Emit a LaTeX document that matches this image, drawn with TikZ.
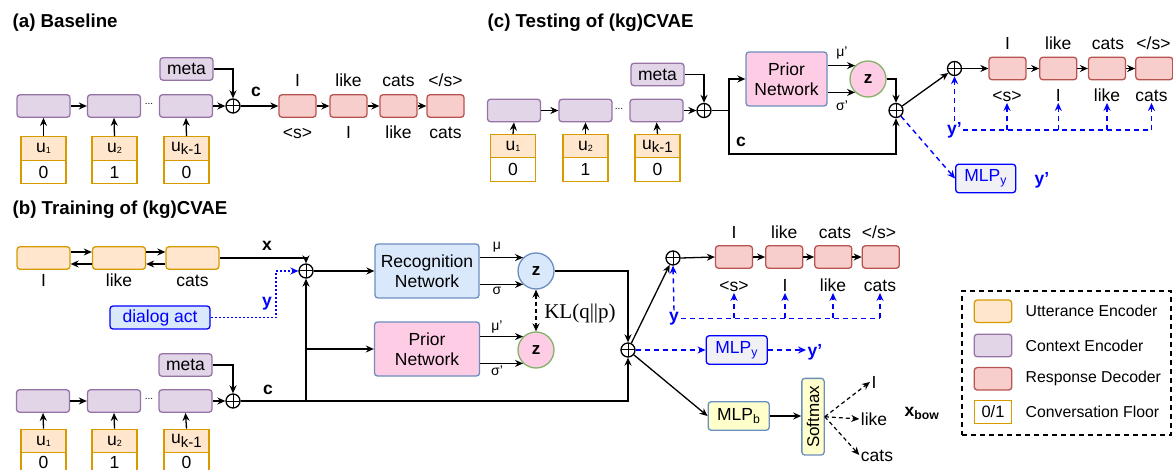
\documentclass[tikz,border=0pt]{standalone}
\usepackage{fontspec}
\setmainfont{Liberation Sans}
\newfontfamily\seriffont{Liberation Serif}
\usetikzlibrary{arrows.meta,calc}
\definecolor{uttF}{HTML}{FFE6CC}
\definecolor{uttD}{HTML}{D79B00}
\definecolor{ctxF}{HTML}{E1D5E7}
\definecolor{ctxD}{HTML}{9673A6}
\definecolor{decF}{HTML}{F8CECC}
\definecolor{decD}{HTML}{B85450}
\definecolor{bluF}{HTML}{DAE8FC}
\definecolor{bluD}{HTML}{6C8EBF}
\definecolor{pinF}{HTML}{FFCCE6}
\definecolor{grnD}{HTML}{82B366}
\definecolor{yelF}{HTML}{FFFFCC}
\definecolor{mlpF}{HTML}{F0F0F5}
\definecolor{pureblue}{HTML}{0000FF}
\newcommand\smallsub[1]{\raisebox{-1pt}{\fontsize{9}{9}\selectfont #1}}
\newcommand\bigsub[1]{\raisebox{-3.5pt}{\fontsize{15}{15}\selectfont #1}}
\begin{document}
\begin{tikzpicture}[x=1pt,y=-1pt,line width=1.3pt,
  >={Stealth[length=8pt,width=7pt]},
  font={\fontsize{17.5}{20}\selectfont},
  bx/.style={draw,rounded corners=3pt,inner sep=0pt,align=center},
  ctx/.style={bx,fill=ctxF,draw=ctxD,minimum width=53,minimum height=22.5},
  dec/.style={bx,fill=decF,draw=decD,minimum width=37,minimum height=22.5},
  utt/.style={bx,fill=uttF,draw=uttD,minimum width=53,minimum height=22.5},
  uttcell/.style={draw=uttD,fill=uttF,minimum width=45,minimum height=23.5,inner sep=0pt},
  floorcell/.style={draw=uttD,fill=white,minimum width=45,minimum height=23.5,inner sep=0pt},
  op/.style={circle,draw,minimum size=14,inner sep=0pt,
    path picture={\draw[line width=1pt] (path picture bounding box.north) -- (path picture bounding box.south)
      (path picture bounding box.west) -- (path picture bounding box.east);}},
  zc/.style={circle,minimum size=36,inner sep=0pt,font={\bfseries\fontsize{17}{20}\selectfont}},
  wlab/.style={inner sep=1pt,text height=12.5pt,text depth=0pt},
  greek/.style={font={\fontsize{14}{16}\selectfont},inner sep=0pt},
  bl/.style={font={\bfseries\fontsize{17.5}{20}\selectfont},inner sep=1pt},
  bbl/.style={bl,text=pureblue},
  ttl/.style={font={\bfseries\fontsize{18.7}{22}\selectfont},anchor=west,inner sep=0pt},
  dotsl/.style={font={\fontsize{10}{10}\selectfont},inner sep=0pt},
  legl/.style={font={\fontsize{15.8}{18}\selectfont},anchor=west,inner sep=0pt},
  bdash/.style={pureblue,dash pattern=on 5pt off 4pt,line width=1.4pt},
  bdot/.style={pureblue,dash pattern=on 2pt off 2pt,line width=1.2pt},
  kdash/.style={dash pattern=on 4pt off 3pt,line width=1.2pt}]
\useasboundingbox (0,0) rectangle (1173,470);

% ================= (a) Baseline =================
\node[ttl] (ta) at (12,23) {(a) Baseline};
\node[ctx] (ac1) at (43.5,106) {};
\node[ctx] (ac2) at (114,106) {};
\node[ctx] (ac3) at (186,106) {};
\node[dotsl] (adots) at (149,104) {...};
\node[ctx] (ameta) at (186.5,69) {meta};
\node[op] (aop) at (233,106) {};
\node[bl] (aclab) at (256,92) {c};
\node[dec] (ad1) at (297.5,106) {};
\node[dec] (ad2) at (348.5,106) {};
\node[dec] (ad3) at (398.5,106) {};
\node[dec] (ad4) at (445.5,106) {};
\node[wlab] (aa1) at (297.5,80) {I};
\node[wlab] (aa2) at (348.5,80) {like};
\node[wlab] (aa3) at (398.5,80) {cats};
\node[wlab] (aa4) at (445.5,80) {</s>};
\node[wlab] (ab1) at (297.5,132) {<s>};
\node[wlab] (ab2) at (348.5,132) {I};
\node[wlab] (ab3) at (398.5,132) {like};
\node[wlab] (ab4) at (445.5,132) {cats};
\node[uttcell] (au1) at (43.5,148.5) {u\smallsub{1}};
\node[floorcell] (af1) at (43.5,172) {0};
\node[uttcell] (au2) at (114.5,148.5) {u\smallsub{2}};
\node[floorcell] (af2) at (114.5,172) {1};
\node[uttcell] (au3) at (186.5,148.5) {u\bigsub{k-1}};
\node[floorcell] (af3) at (186.5,172) {0};
\draw[->] (au1.north) -- (ac1.south);
\draw[->] (au2.north) -- (ac2.south);
\draw[->] (au3.north) -- (ac3.south);
\draw[->] (ac1.east) -- (ac2.west);
\draw[->] (ac3.east) -- (aop.west);
\draw[->] (ameta.east) -| (aop.north);
\draw[->] (aop.east) -- (ad1.west);
\draw[->] (ad1.east) -- (ad2.west);
\draw[->] (ad2.east) -- (ad3.west);
\draw[->] (ad3.east) -- (ad4.west);

% ================= (c) Testing =================
\node[ttl] (tc) at (487,23) {(c) Testing of (kg)CVAE};
\node[ctx] (cc1) at (514,110.5) {};
\node[ctx] (cc2) at (585.5,110.5) {};
\node[ctx] (cc3) at (656.5,110.5) {};
\node[dotsl] (cdots) at (619,108.5) {...};
\node[ctx] (cmeta) at (657.5,74.5) {meta};
\node[op] (cop1) at (704,110.5) {};
\node[uttcell] (cu1) at (513,146.5) {u\smallsub{1}};
\node[floorcell] (cf1) at (513,169.5) {0};
\node[uttcell] (cu2) at (585.5,146.5) {u\smallsub{2}};
\node[floorcell] (cf2) at (585.5,169.5) {1};
\node[uttcell] (cu3) at (657.5,146.5) {u\bigsub{k-1}};
\node[floorcell] (cf3) at (657.5,169.5) {0};
\coordinate (cbr) at (729,110.5);
\coordinate (ccor) at (896,154);
\node[bx,fill=pinF,draw=bluD,minimum width=81,minimum height=54] (cprior) at (786.5,79) {Prior\\Network};
\node[zc,draw=grnD,fill=pinF] (cz) at (868,79) {z};
\node[op] (cop2) at (896,110.5) {};
\node[bl] (cclab) at (741,142) {c};
\node[greek] (cmu) at (842,53) {μ'};
\node[greek] (csig) at (842,106) {σ'};
\node[op] (cop3) at (954.5,68.5) {};
\node[dec] (cd1) at (1007.5,68.5) {};
\node[dec] (cd2) at (1058.3,68.5) {};
\node[dec] (cd3) at (1107,68.5) {};
\node[dec] (cd4) at (1154.3,68.5) {};
\node[wlab] (ca1) at (1007.5,43.5) {I};
\node[wlab] (ca2) at (1058.3,43.5) {like};
\node[wlab] (ca3) at (1108,43.5) {cats};
\node[wlab] (ca4) at (1153.5,43.5) {</s>};
\node[wlab] (cb1) at (1007,95) {<s>};
\node[wlab] (cb2) at (1058.3,95) {I};
\node[wlab] (cb3) at (1107,95) {like};
\node[wlab] (cb4) at (1151.5,95) {cats};
\node[bbl] (cyp) at (954.5,130) {y'};
\coordinate (ch1) at (1007,130);
\coordinate (ch2) at (1058.3,130);
\coordinate (ch3) at (1107,130);
\coordinate (ch4) at (1151.5,130);
\node[bx,fill=mlpF,draw=pureblue,text=pureblue,minimum width=60,minimum height=28.5] (cmlpy) at (985.7,178.5) {MLP\textsubscript{y}};
\node[bbl] (cyp2) at (1042,180) {y'};
\draw[->] (cu1.north) -- (cc1.south);
\draw[->] (cu2.north) -- (cc2.south);
\draw[->] (cu3.north) -- (cc3.south);
\draw[->] (cc1.east) -- (cc2.west);
\draw[->] (cc3.east) -- (cop1.west);
\draw[->] (cmeta.east) -| (cop1.north);
\draw (cop1.east) -- (cbr);
\draw[->] (cbr) |- (cprior.west);
\draw[->] (cbr) |- (ccor) -- (cop2.south);
\draw[->] (cprior.east |- cz.134) -- (cz.134);
\draw[->] (cprior.east |- cz.226) -- (cz.226);
\draw[->] (cz.east) -| (cop2.north);
\draw[->] (cop2) -- (cop3);
\draw[->] (cop3.east) -- (cd1.west);
\draw[->] (cd1.east) -- (cd2.west);
\draw[->] (cd2.east) -- (cd3.west);
\draw[->] (cd3.east) -- (cd4.west);
\draw[bdash,->] (cyp.north) -- (cop3.south);
\draw[bdash] (cyp.east) -- (ch4);
\draw[bdash,->] (ch1) -- (cb1.south);
\draw[bdash,->] (ch2) -- (cb2.south);
\draw[bdash,->] (ch3) -- (cb3.south);
\draw[bdash,->] (ch4) -- (cb4.south);
\draw[bdash,->] (cop2) -- (cmlpy.west);

% ================= (b) Training =================
\node[ttl] (tb) at (12,210) {(b) Training of (kg)CVAE};
\node[utt] (bu1) at (43.5,258) {};
\node[utt] (bu2) at (119,258) {};
\node[utt] (bu3) at (192.5,258) {};
\draw[->] ([yshift=6pt]bu1.east) -- ([yshift=6pt]bu2.west);
\draw[<-] ([yshift=-6pt]bu1.east) -- ([yshift=-6pt]bu2.west);
\draw[->] ([yshift=6pt]bu2.east) -- ([yshift=6pt]bu3.west);
\draw[<-] ([yshift=-6pt]bu2.east) -- ([yshift=-6pt]bu3.west);
\node[wlab] (bw1) at (43.5,280) {I};
\node[wlab] (bw2) at (119,280) {like};
\node[wlab] (bw3) at (192.5,280) {cats};
\node[op] (bop1) at (306,271) {};
\draw[->] (bu3.east) -| (bop1.north);
\node[bl] (bxlab) at (267,246) {x};
\node[bx,fill=bluF,draw=pureblue,text=pureblue,minimum width=100,minimum height=23] (bda) at (160,317.5) {dialog act};
\coordinate (bdk) at (276,271);
\draw[bdot,->] (bda.east) -| (bdk) -- (bop1.west);
\node[bbl] (bylab) at (267,304) {y};
\node[bx,fill=bluF,draw=bluD,minimum width=104,minimum height=54] (brec) at (427,271) {Recognition\\Network};
\node[bx,fill=pinF,draw=bluD,minimum width=105,minimum height=54] (bprior) at (427,349) {Prior\\Network};
\draw[->] (bop1.east) -- (brec.west);
\node[ctx] (bmeta) at (185.5,365) {meta};
\node[ctx] (bc1) at (43,401) {};
\node[ctx] (bc2) at (114,401) {};
\node[ctx] (bc3) at (185.5,401) {};
\node[dotsl] (bdots) at (149,399) {...};
\node[op] (bop2) at (233,401) {};
\node[bl] (bclab) at (268,390) {c};
\coordinate (bj1) at (306,401);
\coordinate (bj2) at (306,349);
\node[op] (bop3) at (628,350) {};
\draw[->] (bop2.east) -| (bop3.south);
\draw[->] (bj1) -- (bop1.south);
\draw[->] (bj2) -- (bprior.west);
\draw[->] (bmeta.east) -| (bop2.north);
\draw[->] (bc1.east) -- (bc2.west);
\draw[->] (bc3.east) -- (bop2.west);
\node[uttcell,minimum height=23.5] (bt1) at (43.5,441) {u\smallsub{1}};
\node[floorcell,minimum height=18.5] (bf1) at (43.5,462) {0};
\node[uttcell,minimum height=23.5] (bt2) at (114.5,441) {u\smallsub{2}};
\node[floorcell,minimum height=18.5] (bf2) at (114.5,462) {1};
\node[uttcell,minimum height=23.5] (bt3) at (186.5,441) {u\bigsub{k-1}};
\node[floorcell,minimum height=18.5] (bf3) at (186.5,462) {0};
\draw[->] (bt1.north) -- (bc1.south);
\draw[->] (bt2.north) -- (bc2.south);
\draw[->] (bt3.north) -- (bc3.south);
\node[zc,fill=bluF,draw=bluD] (bz1) at (536,271) {z};
\node[zc,fill=pinF,draw=grnD] (bz2) at (536,350) {z};
\draw[->] (brec.east |- bz1.134) -- (bz1.134);
\draw[->] (brec.east |- bz1.226) -- (bz1.226);
\draw[->] (bprior.east |- bz2.134) -- (bz2.134);
\draw[->] (bprior.east |- bz2.226) -- (bz2.226);
\node[greek] (bmu) at (497,247) {μ};
\node[greek] (bsig) at (497,291) {σ};
\node[greek] (bmu2) at (497,327) {μ'};
\node[greek] (bsig2) at (497,371) {σ'};
\draw[kdash,<->] (bz1.south) -- (bz2.north);
\node[font={\seriffont\fontsize{21}{24}\selectfont},inner sep=0pt] (bkl) at (580,313) {KL(q||p)};
\draw[->] (bz1.east) -| (bop3.north);
\node[op] (bop4) at (673,258) {};
\draw[->] (bop3) -- (bop4);
\node[dec] (bd1) at (734,257) {};
\node[dec] (bd2) at (784.3,257) {};
\node[dec] (bd3) at (833.3,257) {};
\node[dec] (bd4) at (880.8,257) {};
\draw[->] (bop4.east) -- (bd1.west);
\draw[->] (bd1.east) -- (bd2.west);
\draw[->] (bd2.east) -- (bd3.west);
\draw[->] (bd3.east) -- (bd4.west);
\node[wlab] (bv1) at (734,232) {I};
\node[wlab] (bv2) at (784.3,232) {like};
\node[wlab] (bv3) at (835,232) {cats};
\node[wlab] (bv4) at (879,232) {</s>};
\node[wlab] (bg1) at (734,285) {<s>};
\node[wlab] (bg2) at (785,285) {I};
\node[wlab] (bg3) at (833,285) {like};
\node[wlab] (bg4) at (880,285) {cats};
\node[bbl] (by2) at (674,318.5) {y};
\coordinate (bh1) at (734,318.5);
\coordinate (bh2) at (785,318.5);
\coordinate (bh3) at (833,318.5);
\coordinate (bh4) at (880,318.5);
\draw[bdash,->] (by2.north) -- (bop4.south);
\draw[bdash] (by2.east) -- (bh4);
\draw[bdash,->] (bh1) -- (bg1.south);
\draw[bdash,->] (bh2) -- (bg2.south);
\draw[bdash,->] (bh3) -- (bg3.south);
\draw[bdash,->] (bh4) -- (bg4.south);
\node[bx,fill=mlpF,draw=pureblue,text=pureblue,minimum width=61,minimum height=28.5] (bmlpy) at (736.7,350) {MLP\textsubscript{y}};
\draw[bdash,->] (bop3.east) -- (bmlpy.west);
\node[bbl] (byp) at (815,352) {y'};
\draw[bdash,->] (bmlpy.east) -- (bmlpy.east -| byp.west);
\node[bx,fill=yelF,draw=bluD,minimum width=61,minimum height=28.5] (bmlpb) at (738.7,416) {MLP\textsubscript{b}};
\draw[->] (bop3) -- (bmlpb.west);
\node[bx,fill=yelF,draw=bluD,minimum width=22.3,minimum height=76.7,font={\fontsize{17}{20}\selectfont}] (bsm) at (813,416.7) {\rotatebox{90}{Softmax}};
\draw[->] (bmlpb.east) -- (bmlpb.east -| bsm.west);
\node[wlab] (bs1) at (874,382) {I};
\node[wlab] (bs2) at (874,419) {like};
\node[wlab] (bs3) at (877,455) {cats};
\draw[kdash,->] (bsm.east) -- (bs1.west);
\draw[kdash,->] (bsm.east) -- (bs2.west);
\draw[kdash,->] (bsm.east) -- (bs3.west);
\node[bl] (bxbow) at (922,413) {x\textsubscript{bow}};

% ================= Legend =================
\node[draw,dash pattern=on 5pt off 4pt,minimum width=209,minimum height=144,inner sep=0pt] (leg) at (1066.5,363) {};
\node[utt,minimum width=37.5] (l1) at (993,311.3) {};
\node[ctx,minimum width=37.5] (l2) at (993,345.5) {};
\node[dec,minimum width=37.5] (l3) at (993,378.8) {};
\node[floorcell,minimum width=37.5,minimum height=23,font={\fontsize{16.5}{18}\selectfont}] (l4) at (993,411.7) {0/1};
\node[legl] (lt1) at (1025,311.3) {Utterance Encoder};
\node[legl] (lt2) at (1025,345.5) {Context Encoder};
\node[legl] (lt3) at (1025,378.8) {Response Decoder};
\node[legl] (lt4) at (1025,411.7) {Conversation Floor};
\end{tikzpicture}
\end{document}
